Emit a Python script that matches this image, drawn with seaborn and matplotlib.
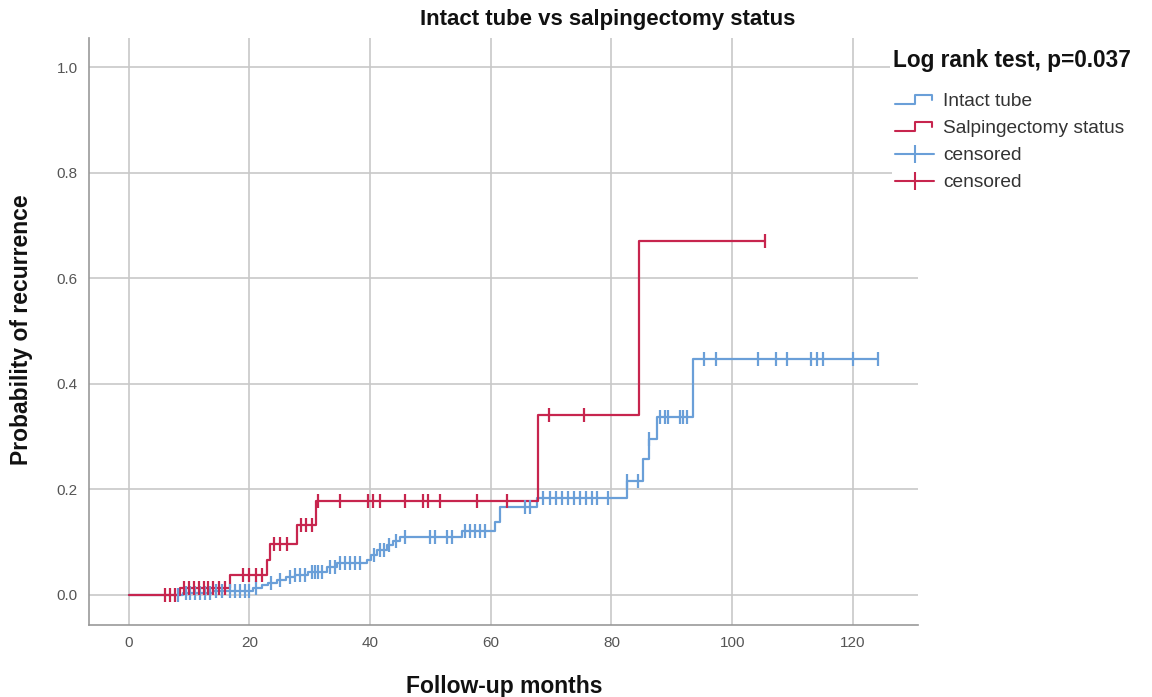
import numpy as np
import pandas as pd
import matplotlib
matplotlib.use("Agg")
import matplotlib.pyplot as plt
import seaborn as sns
from matplotlib.lines import Line2D
from matplotlib.legend_handler import HandlerBase

# ---------------- data ----------------
group_names = ["Intact tube", "Salpingectomy status"]

intact_event_times = [9, 14, 20.5, 22, 23, 24.5, 26, 27.5, 29.7, 32.8, 34.5, 39.5, 40.2, 41.1,
                      42.8, 43.8, 44.9, 55.2, 60.7, 61.5, 67.7, 82.6, 85.3, 86.2, 87.5, 93.5]
intact_event_levels = [0.004, 0.008, 0.013, 0.018, 0.023, 0.028, 0.033, 0.038, 0.044, 0.052, 0.060,
                       0.067, 0.076, 0.085, 0.095, 0.103, 0.110, 0.122, 0.139, 0.167, 0.184,
                       0.216, 0.257, 0.295, 0.337, 0.447]
intact_censor_times = [8.1, 9.4, 10.2, 11, 11.8, 12.6, 13.4, 14.5, 15.5, 16.8, 17.6, 18.4, 19.2, 20,
                       21, 23.5, 25, 26.7, 27.5, 28.4, 29.2, 30.3, 30.8, 31.3, 32, 33.3, 34.2, 35,
                       35.8, 36.7, 37.5, 38.3, 40.6, 41.6, 42.3, 43.2, 44.3, 45.8, 49.9, 50.7, 52.7,
                       53.6, 55.7, 56.6, 57.4, 58.2, 59.0, 65.7, 66.5, 68.7, 69.8, 70.8, 71.8, 72.8,
                       73.8, 74.8, 75.8, 76.8, 77.6, 79.4, 82.6, 84.4, 86.2, 88, 88.9, 89.4, 91.4,
                       91.9, 92.5, 95.4, 97.3, 104.3, 107.3, 109.1, 113.1, 114.1, 115.1, 120.1, 124.2]

salp_event_times = [8.5, 16.8, 22.9, 23.4, 27.8, 31.1, 67.8, 84.5]
salp_event_levels = [0.013, 0.038, 0.066, 0.096, 0.133, 0.178, 0.341, 0.670]
salp_censor_times = [6, 6.8, 7.6, 9.2, 10, 10.8, 11.6, 12.4, 13.2, 14, 15, 16, 19, 20, 21, 22, 24,
                     25, 26.2, 28.6, 29.4, 30.4, 31.3, 35, 39.6, 40.5, 41.6, 45.8, 48.8, 49.6,
                     51.6, 57.7, 62.7, 69.7, 75.5, 105.5]

x_ticks = [0, 20, 40, 60, 80, 100, 120]
y_ticks = [0.0, 0.2, 0.4, 0.6, 0.8, 1.0]

BLUE = "#6a9fd8"
RED = "#c7254e"
colors = [BLUE, RED]


def curve(ev_t, ev_l, cens_t):
    end = max(max(cens_t), max(ev_t))
    t = [0.0] + list(ev_t) + [end]
    y = [0.0] + list(ev_l) + [ev_l[-1]]
    ct = np.array(cens_t)
    idx = np.searchsorted(np.array(ev_t), ct, side="right")
    lv = np.concatenate([[0.0], ev_l])
    return t, y, list(ct), list(lv[idx])


rows, crow = [], []
for g, (et, el, ctm) in zip(group_names, [(intact_event_times, intact_event_levels, intact_censor_times),
                                          (salp_event_times, salp_event_levels, salp_censor_times)]):
    t, y, ct, cy = curve(et, el, ctm)
    rows.append(pd.DataFrame({"t": t, "p": y, "group": g}))
    crow.append(pd.DataFrame({"t": ct, "p": cy, "group": g}))
lines_df = pd.concat(rows, ignore_index=True)
cens_df = pd.concat(crow, ignore_index=True)

# ---------------- plot ----------------
sns.set_theme(style="white")
plt.rcParams["font.family"] = ["Liberation Sans", "DejaVu Sans"]

fig = plt.figure(figsize=(11.52, 6.97), dpi=100)
ax = fig.add_axes([89 / 1152, 1 - 625 / 697, (918 - 89) / 1152, (625 - 38) / 697])

for g, c in zip(group_names, colors):
    sub = lines_df[lines_df.group == g]
    sns.lineplot(data=sub, x="t", y="p", color=c, drawstyle="steps-post", estimator=None,
                 sort=False, lw=1.6, ax=ax, legend=False)
    csub = cens_df[cens_df.group == g]
    ax.plot(csub.t, csub.p, ls="none", marker="|", ms=10, mew=1.6, color=c, zorder=3)

ax.set_xlim(-6.6, 130.8)
ax.set_ylim(-0.057, 1.055)
ax.set_xticks(x_ticks)
ax.set_yticks(y_ticks)
ax.set_xticklabels([str(v) for v in x_ticks])
ax.set_yticklabels([f"{v:.1f}" for v in y_ticks])
ax.tick_params(axis="both", labelsize=11, colors="#555555", length=0, pad=8)
ax.grid(True, color="#c8c8c8", lw=1.2)
ax.set_axisbelow(True)
for s in ["top", "right"]:
    ax.spines[s].set_visible(False)
for s in ["left", "bottom"]:
    ax.spines[s].set_color("#999999")
    ax.spines[s].set_linewidth(1.2)

ax.set_xlabel("")
ax.set_ylabel("")
fig.text(504 / 1152, 1 - 686 / 697, "Follow-up months", ha="center", va="center",
         fontsize=16.5, fontweight="bold", color="#111111")
fig.text(22 / 1152, 1 - 330 / 697, "Probability of recurrence", ha="center", va="center",
         rotation=90, fontsize=16.5, fontweight="bold", color="#111111")
fig.text(608 / 1152, 1 - 20 / 697, "Intact tube vs salpingectomy status", ha="center", va="center",
         fontsize=16, fontweight="bold", color="#111111")
fig.text(893 / 1152, 1 - 61 / 697, "Log rank test, p=0.037", ha="left", va="center",
         fontsize=16.3, fontweight="bold", color="#111111", zorder=10,
         bbox=dict(facecolor="white", edgecolor="none", pad=2))


class StepHandler(HandlerBase):
    def create_artists(self, legend, orig_handle, xdescent, ydescent, width, height, fontsize, trans):
        x0, y0 = -xdescent, -ydescent
        xs = [x0, x0 + width * 0.5, x0 + width * 0.5, x0 + width * 0.95, x0 + width * 0.95]
        ys = [y0 + height * 0.15, y0 + height * 0.15, y0 + height * 0.85, y0 + height * 0.85, y0 + height * 0.5]
        ln = Line2D(xs, ys, color=orig_handle.get_color(), lw=1.5, transform=trans)
        return [ln]


h_int = Line2D([], [], color=BLUE, lw=1.5)
h_salp = Line2D([], [], color=RED, lw=1.5)
h_c1 = Line2D([], [], color=BLUE, lw=1.5, marker="|", ms=13, mew=1.5)
h_c2 = Line2D([], [], color=RED, lw=1.5, marker="|", ms=13, mew=1.5)
leg = fig.legend([h_int, h_salp, h_c1, h_c2],
                 ["Intact tube", "Salpingectomy status", "censored", "censored"],
                 handler_map={h_int: StepHandler(), h_salp: StepHandler()},
                 loc="upper left", bbox_to_anchor=(892 / 1152, 1 - 90 / 697),
                 fontsize=13.8, numpoints=1, handlelength=2.05, handletextpad=0.45,
                 labelspacing=0.5, frameon=True, facecolor="white", edgecolor="none",
                 framealpha=1, borderpad=0.15, borderaxespad=0)
for t in leg.get_texts():
    t.set_color("#333333")

fig.savefig("out.png", dpi=100)
